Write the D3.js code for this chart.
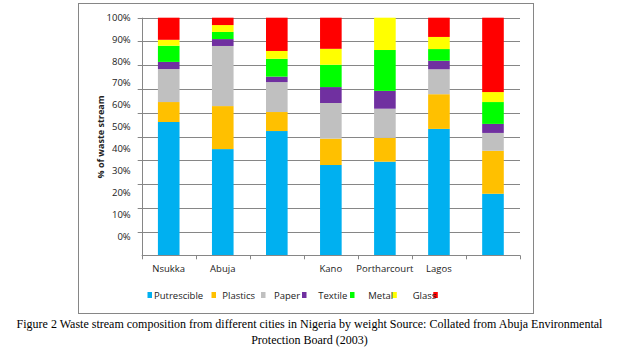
<!DOCTYPE html>
<html>
<head>
<meta charset="utf-8">
<script src="https://cdn.jsdelivr.net/npm/d3@7"></script>
<style>
  body { margin: 0; background: #fff; }
  text { font-family: "Open Sans", sans-serif; fill: #222; }
</style>
</head>
<body>
<svg id="chart" width="619" height="350"></svg>
<script>
"use strict";

// data (percent of waste stream)
const cities = ["Nsukka", "Abuja", "", "Kano", "Portharcourt", "Lagos", ""];
const putrescible = [56.1, 44.7, 52.3, 38.0, 39.4, 53.2, 25.9];
const plastics    = [8.4, 18.1, 8.0, 11.1, 10.0, 14.6, 18.1];
const paper       = [13.9, 25.3, 12.6, 15.0, 12.3, 10.5, 7.5];
const textile     = [3.0, 2.9, 2.3, 6.7, 7.5, 3.6, 3.8];
const metal       = [6.8, 3.0, 7.5, 9.4, 17.2, 4.9, 9.2];
const glass       = [2.5, 2.9, 3.3, 6.7, 13.6, 5.1, 4.2];
const other       = [9.3, 3.1, 14.0, 13.1, 0, 8.1, 31.3];

const seriesKeys = ["Putrescible", "Plastics", "Paper", "Textile", "Metal", "Glass", "Other"];
const seriesColors = ["#00B0F0", "#FFC000", "#C0C0C0", "#7030A0", "#00FF00", "#FFFF00", "#FF0000"];
const legendLabels = ["Putrescible", "Plastics", "Paper", "Textile", "Metal", "Glass"];
const yTicks = [0, 10, 20, 30, 40, 50, 60, 70, 80, 90, 100];

// build table for d3.stack
const table = cities.map((c, i) => ({
  idx: i,
  Putrescible: putrescible[i], Plastics: plastics[i], Paper: paper[i],
  Textile: textile[i], Metal: metal[i], Glass: glass[i], Other: other[i]
}));

const svg = d3.select("#chart");
const plot = {left: 141.7, right: 520, top: 17.7, bottom: 255.3};

// chart frame
svg.append("rect")
  .attr("x", 78.5).attr("y", 3.5)
  .attr("width", 455).attr("height", 310)
  .attr("fill", "none").attr("stroke", "#868686").attr("stroke-width", 1);

let x = d3.scaleBand()
  .domain(d3.range(cities.length))
  .range([plot.left, plot.right])
  .paddingInner(0.6)
  .paddingOuter(0.3);

let y = d3.scaleLinear().domain([0, 100]).range([plot.bottom, plot.top]);
// the tick labels in the figure sit on their own spacing
let yLabel = d3.scaleLinear().domain([0, 100]).range([236, 17.3]);

let colorScale = d3.scaleOrdinal().domain(seriesKeys).range(seriesColors);

// gridlines
svg.append("g")
  .selectAll("line")
  .data(yTicks.filter(t => t > 0))
  .join("line")
    .attr("x1", plot.left - 4).attr("x2", plot.right)
    .attr("y1", d => Math.round(y(d)) + 0.5).attr("y2", d => Math.round(y(d)) + 0.5)
    .attr("stroke", "#868686");

// y labels
let yAxis = svg.append("g")
  .attr("transform", `translate(${plot.left - 8},0)`)
  .call(d3.axisLeft(yLabel).tickValues(yTicks).tickSize(0).tickFormat(d => d + "%"));
yAxis.select(".domain").remove();
yAxis.selectAll("text").attr("font-size", 9.5).attr("dx", 0);

// left axis line
svg.append("line")
  .attr("x1", Math.round(plot.left) + 0.5).attr("x2", Math.round(plot.left) + 0.5)
  .attr("y1", plot.top).attr("y2", plot.bottom)
  .attr("stroke", "#868686");

// bars
let series = d3.stack().keys(seriesKeys)(table);
svg.append("g")
  .selectAll("g")
  .data(series)
  .join("g")
    .attr("fill", d => colorScale(d.key))
  .selectAll("rect")
  .data(d => d)
  .join("rect")
    .attr("x", d => x(d.data.idx))
    .attr("width", x.bandwidth())
    .attr("y", d => y(d[1]))
    .attr("height", d => y(d[0]) - y(d[1]));

// x axis with ticks at band boundaries
let step = x.step();
let bounds = d3.range(cities.length + 1).map(i => plot.left + i * step);
let xAxis = svg.append("g");
xAxis.append("line")
  .attr("x1", plot.left).attr("x2", plot.right)
  .attr("y1", Math.round(plot.bottom) + 0.5).attr("y2", Math.round(plot.bottom) + 0.5)
  .attr("stroke", "#868686");
xAxis.selectAll(".tk")
  .data(bounds)
  .join("line")
    .attr("class", "tk")
    .attr("x1", d => Math.round(d) + 0.5).attr("x2", d => Math.round(d) + 0.5)
    .attr("y1", plot.bottom).attr("y2", plot.bottom + 4)
    .attr("stroke", "#868686");
xAxis.selectAll(".lbl")
  .data(cities)
  .join("text")
    .attr("class", "lbl")
    .attr("x", (d, i) => x(i) + x.bandwidth() / 2)
    .attr("y", 272)
    .attr("text-anchor", "middle")
    .attr("font-size", 9.5)
    .text(d => d);

// y axis title
svg.append("text")
  .attr("transform", "translate(104,137) rotate(-90)")
  .attr("text-anchor", "middle")
  .attr("font-size", 9)
  .attr("font-weight", "bold")
  .text("% of waste stream");

// legend: markers and labels placed as in the figure
const markerX = [147.5, 211.5, 261, 302, 350, 392.3, 433.3];
const labelX = [154, 222.3, 274, 318.3, 368.3, 412.7];
svg.append("g")
  .selectAll("rect")
  .data(seriesKeys)
  .join("rect")
    .attr("x", (d, i) => markerX[i])
    .attr("y", 292)
    .attr("width", 4.5).attr("height", 6)
    .attr("fill", d => colorScale(d));
svg.append("g")
  .selectAll("text")
  .data(legendLabels)
  .join("text")
    .attr("x", (d, i) => labelX[i])
    .attr("y", 298.5)
    .attr("font-size", 9.5)
    .text(d => d);

// caption
const caption = [
  "Figure 2 Waste stream composition from different cities in Nigeria by weight Source: Collated from Abuja Environmental",
  "Protection Board (2003)"
];
svg.append("g")
  .selectAll("text")
  .data(caption)
  .join("text")
    .attr("x", 309.5)
    .attr("y", (d, i) => 328 + i * 16)
    .attr("text-anchor", "middle")
    .attr("font-size", 12)
    .style("font-family", "'Liberation Serif', 'Times New Roman', serif")
    .style("fill", "#000")
    .text(d => d);
</script>
</body>
</html>
